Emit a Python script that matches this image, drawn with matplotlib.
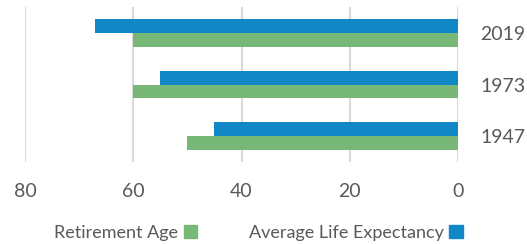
import matplotlib
matplotlib.use("Agg")
import matplotlib.pyplot as plt
import numpy as np
from matplotlib.patches import Patch

years = ["1947", "1973", "2019"]
retirement_age = [50, 60, 60]
life_expectancy = [45, 55, 67]
xticks = [0, 20, 40, 60, 80]

BLUE = "#1287C6"
GREEN = "#77B878"
GRID = "#D9D9D9"
TEXT = "#595959"

plt.rcParams['font.family'] = ['Lato', 'DejaVu Sans']

fig = plt.figure(figsize=(5.27, 2.44), dpi=100)
ax = fig.add_axes([25/527, 1-162/244, (458-25)/527, (162-7)/244])

y = np.arange(len(years))
h = 0.265
ax.barh(y + h/2, life_expectancy, height=h, color=BLUE, label="Average Life Expectancy")
ax.barh(y - h/2, retirement_age, height=h, color=GREEN, label="Retirement Age")

ax.set_xlim(80, 0)
ax.set_ylim(-0.5, 2.5)
ax.set_xticks(xticks)
ax.set_xticklabels([str(t) for t in xticks])
ax.set_yticks(y)
ax.set_yticklabels(years)
ax.yaxis.tick_right()
ax.tick_params(axis='y', length=0, pad=16, labelsize=14, labelcolor=TEXT)
ax.tick_params(axis='x', length=0, pad=15, labelsize=14, labelcolor=TEXT)
for s in ax.spines.values():
    s.set_visible(False)
ax.grid(axis='x', color=GRID, linewidth=1.5)
ax.set_axisbelow(True)

handles = [Patch(color=GREEN), Patch(color=BLUE)]
labels = ["Retirement Age", "Average Life Expectancy"]
leg = fig.legend(handles, labels, loc='center', bbox_to_anchor=(258.5/527, 1-233/244),
                 ncol=2, frameon=False, markerfirst=False, fontsize=13,
                 handlelength=0.75, handleheight=0.75, handletextpad=0.3,
                 columnspacing=2.85, labelcolor=TEXT)

fig.savefig("out.png", dpi=100)
